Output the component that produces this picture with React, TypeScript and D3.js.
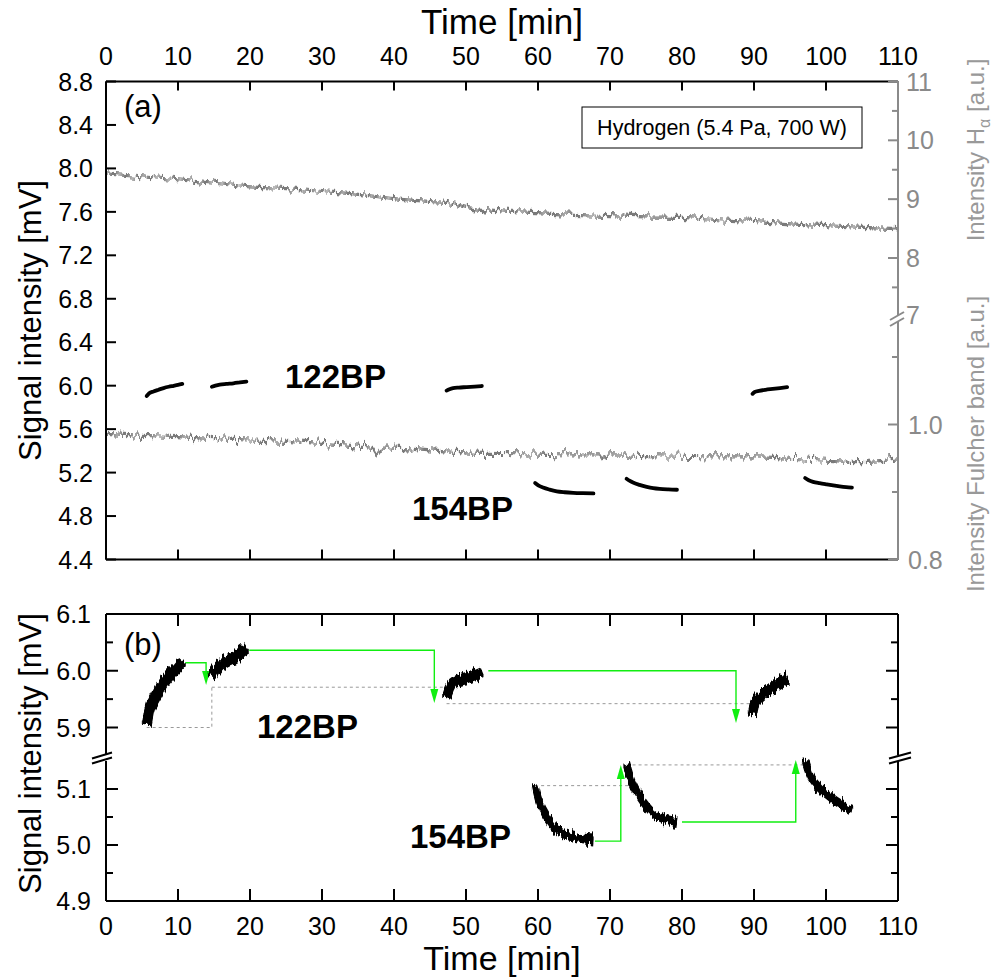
import React from "react";
import * as d3 from "d3";

// ---------- data ----------
const xTicks = [0, 10, 20, 30, 40, 50, 60, 70, 80, 90, 100, 110];
const yTicksA = [4.4, 4.8, 5.2, 5.6, 6.0, 6.4, 6.8, 7.2, 7.6, 8.0, 8.4, 8.8];
const haMajor = [8, 9, 10, 11];
const haMinor = [7.5, 8.5, 9.5, 10.5];
const fuMajor = [0.8, 1.0];
const fuMinor = [0.9, 1.1];
const ybMajor = [4.9, 5.0, 5.1, 5.9, 6.0, 6.1];
const ybMinor = [4.95, 5.05, 5.95, 6.05];

// H-alpha intensity [a.u.] vs time [min]
const haTime = [0, 5, 10, 15, 20, 25, 30, 35, 40, 45, 48, 50, 55, 60, 65, 70, 75, 80, 85, 90, 95, 100, 105, 110];
const haValue = [9.43, 9.38, 9.33, 9.27, 9.21, 9.18, 9.13, 9.08, 9.01, 8.96, 8.93, 8.86, 8.8, 8.77, 8.74, 8.72, 8.7, 8.69, 8.65, 8.62, 8.58, 8.55, 8.52, 8.5];

// Fulcher band intensity [a.u.] vs time [min]
const fuTime = [0, 5, 10, 15, 20, 25, 30, 35, 37, 37.6, 38.2, 40, 45, 50, 55, 60, 65, 68.5, 69, 69.5, 70, 75, 80, 85, 90, 95, 100, 105, 110];
const fuValue = [0.987, 0.984, 0.982, 0.979, 0.977, 0.975, 0.972, 0.968, 0.966, 0.958, 0.965, 0.965, 0.961, 0.958, 0.957, 0.956, 0.955, 0.955, 0.948, 0.954, 0.955, 0.954, 0.953, 0.952, 0.952, 0.95, 0.947, 0.945, 0.949];

// 122BP signal segments [time, mV]
const bp122s1 = [[5.65, 5.905], [6.0, 5.93], [6.6, 5.947], [7.3, 5.963], [8.0, 5.978], [8.7, 5.99], [9.4, 5.999], [10.0, 6.007], [10.6, 6.016]];
const bp122s2 = [[14.7, 5.99], [15.2, 6.0], [15.8, 6.009], [16.7, 6.016], [17.7, 6.022], [18.6, 6.03], [19.5, 6.038]];
const bp122s3 = [[47.3, 5.955], [47.7, 5.968], [48.2, 5.978], [49.0, 5.983], [50.1, 5.987], [51.2, 5.992], [52.2, 5.997]];
const bp122s4 = [[89.8, 5.925], [90.1, 5.942], [90.7, 5.952], [91.6, 5.962], [92.6, 5.97], [93.6, 5.978], [94.6, 5.987]];
// 154BP signal segments [time, mV]
const bp154s1 = [[59.6, 5.104], [60.1, 5.08], [60.7, 5.062], [61.6, 5.043], [62.6, 5.027], [63.7, 5.019], [64.9, 5.014], [66.2, 5.011], [67.7, 5.009]];
const bp154s2 = [[72.3, 5.143], [72.7, 5.125], [73.2, 5.108], [74.1, 5.087], [75.1, 5.069], [76.0, 5.057], [76.9, 5.05], [78.1, 5.045], [79.3, 5.042]];
const bp154s3 = [[97.1, 5.15], [97.6, 5.13], [98.2, 5.115], [99.1, 5.102], [100.1, 5.091], [101.0, 5.082], [101.9, 5.074], [102.8, 5.067], [103.6, 5.062]];

// reference levels (dotted) and arrows (green) [time, mV]
const dotted1 = [[5.65, 5.9], [14.7, 5.9], [14.7, 5.971]];
const dotted2 = [[14.7, 5.971], [47.3, 5.971]];
const dotted3 = [[47.3, 5.942], [89.8, 5.942]];
const dotted4 = [[59.6, 5.106], [72.8, 5.106]];
const dotted5 = [[72.3, 5.143], [97.1, 5.143]];
const arrow1 = [[11.0, 6.014], [13.9, 6.014], [13.9, 5.975]];
const arrow2 = [[19.9, 6.036], [45.6, 6.036], [45.6, 5.943]];
const arrow3 = [[53.1, 6.0], [87.5, 6.0], [87.5, 5.908]];
const arrow4 = [[67.9, 5.007], [71.5, 5.007], [71.5, 5.143]];
const arrow5 = [[80.0, 5.041], [95.8, 5.041], [95.8, 5.152]];

const seg122 = [bp122s1, bp122s2, bp122s3, bp122s4];
const seg154 = [bp154s1, bp154s2, bp154s3];
const dottedLines = [dotted1, dotted2, dotted3, dotted4, dotted5];
const arrows = [arrow1, arrow2, arrow3, arrow4, arrow5];

// ---------- layout ----------
const W = 994, H = 979;
const X0 = 106, X1 = 898;
const AT = 81.5, AB = 559.5;
const BT = 614, BB = 901;
const FONT = "'Liberation Sans', Arial, Helvetica, sans-serif";
const GREY = "#8a8a8a";
const GREEN = "#11ee11";

const x = d3.scaleLinear().domain([0, 110]).range([X0, X1]);
const yA = d3.scaleLinear().domain([4.4, 8.8]).range([AB, AT]);
const yHa = d3.scaleLinear().domain([7, 11]).range([316.8, AT]);
const yFu = d3.scaleLinear().domain([0.8, 1.0]).range([AB, 424.5]);
const ybU = d3.scaleLinear().domain([5.9, 6.1]).range([727.5, BT]);
const ybL = d3.scaleLinear().domain([4.9, 5.1]).range([BB, 789]);
const yB = (v: number) => (v > 5.5 ? ybU(v) : ybL(v));
const BREAK_B = 758;
const BREAK_A = 319;

const lineA = d3.line<number[]>().x((d) => x(d[0])).y((d) => yA(d[1])).curve(d3.curveMonotoneX);
const lineB = d3.line<number[]>().x((d) => x(d[0])).y((d) => yB(d[1])).curve(d3.curveMonotoneX);
const lineBpoly = d3.line<number[]>().x((d) => x(d[0])).y((d) => yB(d[1]));
const haLine = d3.line<number>().x((_, i) => x(haTime[i])).y((d) => yHa(d)).curve(d3.curveMonotoneX);
const fuLine = d3.line<number>().x((_, i) => x(fuTime[i])).y((d) => yFu(d)).curve(d3.curveMonotoneX);

function Arrow({ pts }: { pts: number[][] }) {
  const tip = pts[pts.length - 1];
  const prev = pts[pts.length - 2];
  const tx = x(tip[0]), ty = yB(tip[1]);
  const dir = yB(prev[1]) > ty ? 1 : -1; // 1: arrow pointing up
  const len = 14, hw = 4;
  const baseY = ty + dir * len;
  const shaft = pts.slice(0, -1).map((p) => [x(p[0]), yB(p[1])]);
  shaft.push([tx, baseY]);
  return (
    <g>
      <path d={d3.line()(shaft as [number, number][]) || ""} fill="none" stroke={GREEN} strokeWidth={1.4} />
      <polygon points={`${tx},${ty} ${tx - hw},${baseY} ${tx + hw},${baseY}`} fill={GREEN} />
    </g>
  );
}

function BreakMark({ cx, cy, color, half, gap, slope }: { cx: number; cy: number; color: string; half: number; gap: number; slope: number }) {
  return (
    <g stroke={color} strokeWidth={2}>
      <line x1={cx - half} y1={cy + gap + slope} x2={cx + half} y2={cy + gap - slope} />
      <line x1={cx - half} y1={cy - gap + slope} x2={cx + half} y2={cy - gap - slope} />
    </g>
  );
}

function NoiseFilter({ id, freq, scale, seed }: { id: string; freq: string; scale: number; seed: number }) {
  return (
    <filter id={id} filterUnits="userSpaceOnUse" x={0} y={0} width={W} height={H} colorInterpolationFilters="sRGB">
      <feTurbulence type="fractalNoise" baseFrequency={freq} numOctaves={2} seed={seed} result="t" />
      <feColorMatrix in="t" type="matrix" values="0 0 0 0 0.5  0 1 0 0 0  0 0 0 0 0  0 0 0 0 1" result="m" />
      <feDisplacementMap in="SourceGraphic" in2="m" scale={scale} xChannelSelector="R" yChannelSelector="G" result="d" />
      <feMorphology in="d" operator="dilate" radius="0 1" />
    </filter>
  );
}

export default function App() {
  const tickStyle = { fontFamily: FONT, fontSize: 25 };
  return (
    <svg width={W} height={H} viewBox={`0 0 ${W} ${H}`} style={{ display: "block", position: "absolute", left: 0, top: 0, background: "#fff" }}>
      <defs>
        <NoiseFilter id="noiseHa" freq="0.3 0.03" scale={11} seed={4} />
        <NoiseFilter id="noiseFu" freq="0.3 0.03" scale={16} seed={9} />
        <NoiseFilter id="noiseBlack" freq="0.45 0.05" scale={13} seed={7} />
      </defs>

      {/* ================= Panel (a) ================= */}
      <text x={(X0 + X1) / 2} y={34} textAnchor="middle" fontFamily={FONT} fontSize={35}>Time [min]</text>
      {xTicks.map((t) => (
        <text key={"ta" + t} x={x(t)} y={65} textAnchor="middle" {...tickStyle}>{t}</text>
      ))}
      {/* grey data lines */}
      <path d={haLine(haValue) || ""} fill="none" stroke="#7a7a7a" strokeWidth={1.2} filter="url(#noiseHa)" />
      <path d={fuLine(fuValue) || ""} fill="none" stroke="#7a7a7a" strokeWidth={1.2} filter="url(#noiseFu)" />
      {/* black signal segments */}
      {seg122.concat(seg154).map((s, i) => (
        <path key={"sa" + i} d={lineA(s) || ""} fill="none" stroke="#000" strokeWidth={3.8} strokeLinecap="round" />
      ))}
      {/* frame */}
      <g stroke="#000" strokeWidth={2}>
        <line x1={X0} y1={AT} x2={X1} y2={AT} />
        <line x1={X0} y1={AB} x2={X1} y2={AB} />
        <line x1={X0} y1={AT} x2={X0} y2={AB} />
        {xTicks.map((t) => (
          <g key={"xa" + t}>
            <line x1={x(t)} y1={AT} x2={x(t)} y2={AT + 9} />
            <line x1={x(t)} y1={AB} x2={x(t)} y2={AB - 10} />
          </g>
        ))}
        {yTicksA.map((v) => (
          <line key={"ya" + v} x1={X0} y1={yA(v)} x2={X0 + 10} y2={yA(v)} />
        ))}
      </g>
      {yTicksA.map((v) => (
        <text key={"yla" + v} x={93} y={yA(v)} dy="0.36em" textAnchor="end" {...tickStyle}>{v.toFixed(1)}</text>
      ))}
      {/* right grey broken axis */}
      <g stroke={GREY} strokeWidth={2}>
        <line x1={X1} y1={AT} x2={X1} y2={BREAK_A - 3} />
        <line x1={X1} y1={BREAK_A + 3} x2={X1} y2={AB} />
        {haMajor.map((v) => (
          <line key={"hm" + v} x1={X1} y1={yHa(v)} x2={X1 - 10} y2={yHa(v)} />
        ))}
        {haMinor.map((v) => (
          <line key={"hn" + v} x1={X1} y1={yHa(v)} x2={X1 - 6} y2={yHa(v)} />
        ))}
        {fuMajor.map((v) => (
          <line key={"fm" + v} x1={X1} y1={yFu(v)} x2={X1 - 10} y2={yFu(v)} />
        ))}
        {fuMinor.map((v) => (
          <line key={"fn" + v} x1={X1} y1={yFu(v)} x2={X1 - 6} y2={yFu(v)} />
        ))}
      </g>
      <BreakMark cx={X1 - 1} cy={BREAK_A} color={GREY} half={7} gap={3} slope={4} />
      {haMajor.concat([7]).map((v) => (
        <text key={"hl" + v} x={906} y={v === 7 ? yHa(v) - 2 : yHa(v)} dy="0.36em" fill={GREY} {...tickStyle}>{v}</text>
      ))}
      {fuMajor.map((v) => (
        <text key={"fl" + v} x={908} y={yFu(v)} dy="0.36em" fill={GREY} {...tickStyle}>{v.toFixed(1)}</text>
      ))}
      <text transform="translate(984,150) rotate(-90)" textAnchor="middle" fontFamily={FONT} fontSize={24} fill="#999">
        Intensity H<tspan fontSize={16} dy="6">α</tspan><tspan dy="-6"> [a.u.]</tspan>
      </text>
      <text transform="translate(984,444) rotate(-90)" textAnchor="middle" fontFamily={FONT} fontSize={24} fill="#999">
        Intensity Fulcher band [a.u.]
      </text>
      <text transform={`translate(41,${(AT + AB) / 2}) rotate(-90)`} textAnchor="middle" fontFamily={FONT} fontSize={31}>Signal intensity [mV]</text>
      {/* legend */}
      <rect x={582} y={107} width={280} height={41} fill="#fff" stroke="#000" strokeWidth={1} />
      <text x={722} y={135} textAnchor="middle" fontFamily={FONT} fontSize={21.5}>Hydrogen (5.4 Pa, 700 W)</text>
      <text x={124} y={117} fontFamily={FONT} fontSize={31}>(a)</text>
      <text x={285} y={388} fontFamily={FONT} fontSize={33} fontWeight="bold">122BP</text>
      <text x={412} y={520} fontFamily={FONT} fontSize={33} fontWeight="bold">154BP</text>

      {/* ================= Panel (b) ================= */}
      {dottedLines.map((p, i) => (
        <path key={"dl" + i} d={lineBpoly(p) || ""} fill="none" stroke="#999" strokeWidth={1} strokeDasharray="3,3" />
      ))}
      {arrows.map((p, i) => (
        <Arrow key={"ar" + i} pts={p} />
      ))}
      {seg122.map((s, i) => (
        <path key={"sb" + i} d={lineB(s) || ""} fill="none" stroke="#000" strokeWidth={10} strokeLinecap="butt" filter="url(#noiseBlack)" />
      ))}
      {seg154.map((s, i) => (
        <path key={"sc" + i} d={lineB(s) || ""} fill="none" stroke="#000" strokeWidth={7} strokeLinecap="butt" filter="url(#noiseBlack)" />
      ))}
      <g stroke="#000" strokeWidth={2}>
        <line x1={X0} y1={BT} x2={X1} y2={BT} />
        <line x1={X0} y1={BB} x2={X1} y2={BB} />
        <line x1={X0} y1={BT} x2={X0} y2={BREAK_B - 3} />
        <line x1={X0} y1={BREAK_B + 3} x2={X0} y2={BB} />
        <line x1={X1} y1={BT} x2={X1} y2={BREAK_B - 3} />
        <line x1={X1} y1={BREAK_B + 3} x2={X1} y2={BB} />
        {xTicks.map((t) => (
          <g key={"xb" + t}>
            <line x1={x(t)} y1={BT} x2={x(t)} y2={BT + 12} />
            <line x1={x(t)} y1={BB} x2={x(t)} y2={BB - 12} />
          </g>
        ))}
        {ybMajor.map((v) => (
          <g key={"ybm" + v}>
            <line x1={X0} y1={yB(v)} x2={X0 + 12} y2={yB(v)} />
            <line x1={X1} y1={yB(v)} x2={X1 - 12} y2={yB(v)} />
          </g>
        ))}
        {ybMinor.map((v) => (
          <g key={"ybn" + v}>
            <line x1={X0} y1={yB(v)} x2={X0 + 7} y2={yB(v)} />
            <line x1={X1} y1={yB(v)} x2={X1 - 7} y2={yB(v)} />
          </g>
        ))}
      </g>
      <BreakMark cx={X0 - 4} cy={BREAK_B} color="#000" half={10} gap={2.5} slope={3} />
      <BreakMark cx={X1 + 2} cy={BREAK_B} color="#000" half={11} gap={2.5} slope={3} />
      {ybMajor.map((v) => (
        <text key={"ylb" + v} x={91} y={yB(v)} dy="0.36em" textAnchor="end" {...tickStyle}>{v.toFixed(1)}</text>
      ))}
      {xTicks.map((t) => (
        <text key={"tb" + t} x={x(t)} y={935} textAnchor="middle" {...tickStyle}>{t}</text>
      ))}
      <text x={(X0 + X1) / 2} y={970} textAnchor="middle" fontFamily={FONT} fontSize={34}>Time [min]</text>
      <text transform={`translate(41,${(BT + BB) / 2 - 4}) rotate(-90)`} textAnchor="middle" fontFamily={FONT} fontSize={31}>Signal intensity [mV]</text>
      <text x={124} y={655} fontFamily={FONT} fontSize={31}>(b)</text>
      <text x={257} y={738} fontFamily={FONT} fontSize={33} fontWeight="bold">122BP</text>
      <text x={410} y={848} fontFamily={FONT} fontSize={33} fontWeight="bold">154BP</text>
    </svg>
  );
}
